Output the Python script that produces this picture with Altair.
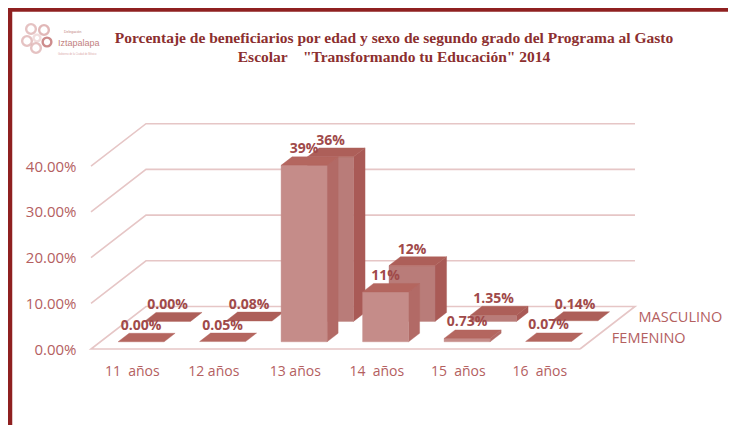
import json
import altair as alt
import pandas as pd

categories = ["11\u00a0 años", "12 años", "13 años", "14\u00a0 años", "15\u00a0 años", "16\u00a0 años"]
femenino = [0.0, 0.05, 38.6, 10.9, 0.73, 0.07]
masculino = [0.0, 0.08, 36.0, 12.2, 1.35, 0.14]
fem_labels = ["0.00%", "0.05%", "39%", "11%", "0.73%", "0.07%"]
masc_labels = ["0.00%", "0.08%", "36%", "12%", "1.35%", "0.14%"]
series_names = ["FEMENINO", "MASCULINO"]
y_ticks = [0, 10, 20, 30, 40]
title_lines = [
    "Porcentaje de beneficiarios por edad y sexo de segundo grado del Programa al Gasto",
    "Escolar \u00a0\u00a0 \"Transformando tu Educación\" 2014",
]

W, H = 720, 417
PX_CAT, PX_VAL = 81.5, 4.57
X0, Y0 = 91 - 8, 349 - 8
DX = 55 / PX_CAT
DY = 42.5 / PX_VAL
x_dom = [-X0 / PX_CAT, (W - X0) / PX_CAT]
y_dom = [(Y0 - H) / PX_VAL, Y0 / PX_VAL]
BAR_W = 46 / PX_CAT
DEPTHS = {"FEMENINO": (0.17, 0.37), "MASCULINO": (0.65, 0.86)}
COLORS = {
    "FEMENINO": ("#c58c89", "#b26a66", "#b4665f"),
    "MASCULINO": ("#b97c79", "#a95a56", "#ad5f59"),
}
DARK = "#a04a4a"
SOFT = "#b4605f"
GRID = "#e6c6c6"
FONT = "Open Sans"


def px(c, d):
    return c + d * DX


def py(v, d):
    return v + d * DY


def slices(pid, pts, color):
    xs = sorted({round(p[0], 6) for p in pts})
    n = len(pts)
    rows = []
    for x in xs:
        ys = []
        for i in range(n):
            a, b = pts[i], pts[(i + 1) % n]
            lo, hi = min(a[0], b[0]), max(a[0], b[0])
            if lo - 1e-6 <= x <= hi + 1e-6:
                if abs(b[0] - a[0]) < 1e-6:
                    ys += [a[1], b[1]]
                else:
                    ys.append(a[1] + (b[1] - a[1]) * (x - a[0]) / (b[0] - a[0]))
        rows.append({"poly": pid, "x": x, "y": max(ys), "y2": min(ys), "c": color})
    return rows


rows = []
pid = 0
labels = []
for name, vals, texts in [("MASCULINO", masculino, masc_labels), ("FEMENINO", femenino, fem_labels)]:
    d0, d1 = DEPTHS[name]
    front, side, top = COLORS[name]
    for i in range(len(categories) - 1, -1, -1):
        v = vals[i]
        l = i + 0.5 - BAR_W / 2
        r = i + 0.5 + BAR_W / 2
        if v > 0.3:
            pid += 1
            rows += slices(f"{pid:03d}", [(px(r, d0), py(0, d0)), (px(r, d1), py(0, d1)), (px(r, d1), py(v, d1)), (px(r, d0), py(v, d0))], side)
            pid += 1
            rows += slices(f"{pid:03d}", [(px(l, d0), py(0, d0)), (px(r, d0), py(0, d0)), (px(r, d0), py(v, d0)), (px(l, d0), py(v, d0))], front)
        pid += 1
        rows += slices(f"{pid:03d}", [(px(l, d0), py(v, d0)), (px(r, d0), py(v, d0)), (px(r, d1), py(v, d1)), (px(l, d1), py(v, d1))], top)
        labels.append({"x": px(i + 0.5, d0), "y": py(v, d0), "t": texts[i]})
bars_df = pd.DataFrame(rows)
labels_df = pd.DataFrame(labels)

grid_rows = []
for v in y_ticks:
    path = [(0, 0), (DX, DY), (6 + DX, DY)]
    if v == 0:
        path = [(6, 0), (0, 0), (DX, DY), (6 + DX, DY), (6, 0)]
    for k, (gx, gy) in enumerate(path):
        grid_rows.append({"line": str(v), "k": k, "x": gx, "y": gy + v})
grid_df = pd.DataFrame(grid_rows)

x_s = alt.Scale(domain=x_dom, nice=False, zero=False)
y_s = alt.Scale(domain=y_dom, nice=False, zero=False)
cat_expr = json.dumps(categories) + "[round(datum.value - 0.5)]"

grid = alt.Chart(grid_df).mark_line(color=GRID, strokeWidth=1.6, clip=False).encode(
    x=alt.X("x:Q", scale=x_s, title=None, axis=alt.Axis(
        values=[i + 0.5 for i in range(6)], labelExpr=cat_expr, offset=-(H - 356), domain=False, ticks=False,
        grid=False, labelFont=FONT, labelFontSize=14, labelColor=SOFT, labelPadding=0, labelBaseline="top",
        labelAlign="center", title=None)),
    y=alt.Y("y:Q", scale=y_s, title=None, axis=alt.Axis(
        values=y_ticks, labelExpr="format(datum.value / 100, '.2%')", offset=-68, domain=False, ticks=False,
        grid=False, labelFont=FONT, labelFontSize=15, labelColor=SOFT, labelPadding=0, title=None)),
    detail="line:N",
    order="k:Q",
)

bars = alt.Chart(bars_df).mark_area(interpolate="linear", strokeWidth=0.4).encode(
    x=alt.X("x:Q", scale=x_s, title=None),
    y=alt.Y("y:Q", scale=y_s, title=None, stack=None),
    y2="y2:Q",
    detail="poly:N",
    fill=alt.Fill("c:N", scale=None),
    stroke=alt.Stroke("c:N", scale=None),
)

bar_text = alt.Chart(labels_df).mark_text(
    font=FONT, fontWeight="bold", fontSize=14, color=DARK, dy=-16
).encode(
    x=alt.X("x:Q", scale=x_s, title=None),
    y=alt.Y("y:Q", scale=y_s, title=None),
    text="t:N",
)

series_df = pd.DataFrame({
    "x": [px(6, sum(DEPTHS[n]) / 2) for n in series_names],
    "y": [py(0, sum(DEPTHS[n]) / 2) for n in series_names],
    "t": series_names,
})
series_text = alt.Chart(series_df).mark_text(
    font=FONT, fontSize=14.5, color=SOFT, align="left", dx=17, dy=1
).encode(
    x=alt.X("x:Q", scale=x_s, title=None),
    y=alt.Y("y:Q", scale=y_s, title=None),
    text="t:N",
)

title_layers = [
    alt.Chart(pd.DataFrame({"t": [t]})).mark_text(
        font="Liberation Serif", fontWeight="bold", fontSize=15.5, color="#8c2f2f", align="center"
    ).encode(x=alt.value(386), y=alt.value(y), text="t:N")
    for t, y in zip(title_lines, [30, 49])
]

frame_top = alt.Chart(pd.DataFrame({"a": [0]})).mark_rule(color="#8f2020", strokeWidth=4.5).encode(
    x=alt.value(0), x2=alt.value(W), y=alt.value(1.5)
)
frame_left = alt.Chart(pd.DataFrame({"a": [0]})).mark_rule(color="#8f2020", strokeWidth=4.5).encode(
    x=alt.value(2), y=alt.value(0), y2=alt.value(H)
)

logo_circles = [(23, 21, 5, "#dba9a9"), (36, 22, 5, "#d59a9a"), (19, 33, 5, "#dba9a9"),
                (29, 30, 3.5, "#ecd0d0"), (39, 34, 4.5, "#b85c5c"), (28, 40, 5, "#dba9a9")]
logo = [
    alt.Chart(pd.DataFrame({"a": [0]})).mark_point(
        filled=False, color=col, strokeWidth=2.4, size=3.14 * r * r * 1.2
    ).encode(x=alt.value(cx), y=alt.value(cy))
    for cx, cy, r, col in logo_circles
]
logo_texts = [
    ("Iztapalapa", 50, 35, 9, "#c27f7f"),
    ("Delegación", 56, 24, 3.5, "#c27f7f"),
    ("Gobierno de la Ciudad de México", 50, 46, 2.6, "#dba9a9"),
]
logo_text = [
    alt.Chart(pd.DataFrame({"t": [t]})).mark_text(
        font="Liberation Sans", fontSize=fs, color=col, align="left"
    ).encode(x=alt.value(tx), y=alt.value(ty), text="t:N")
    for t, tx, ty, fs, col in logo_texts
]

chart = alt.layer(grid, bars, bar_text, series_text, *title_layers, frame_top, frame_left, *logo, *logo_text).properties(
    width=W, height=H, padding=0, autosize=alt.AutoSizeParams(type="none")
).configure_view(stroke=None).configure(background="white")

chart.save("out.html", embed_options={"renderer": "svg", "actions": False})
